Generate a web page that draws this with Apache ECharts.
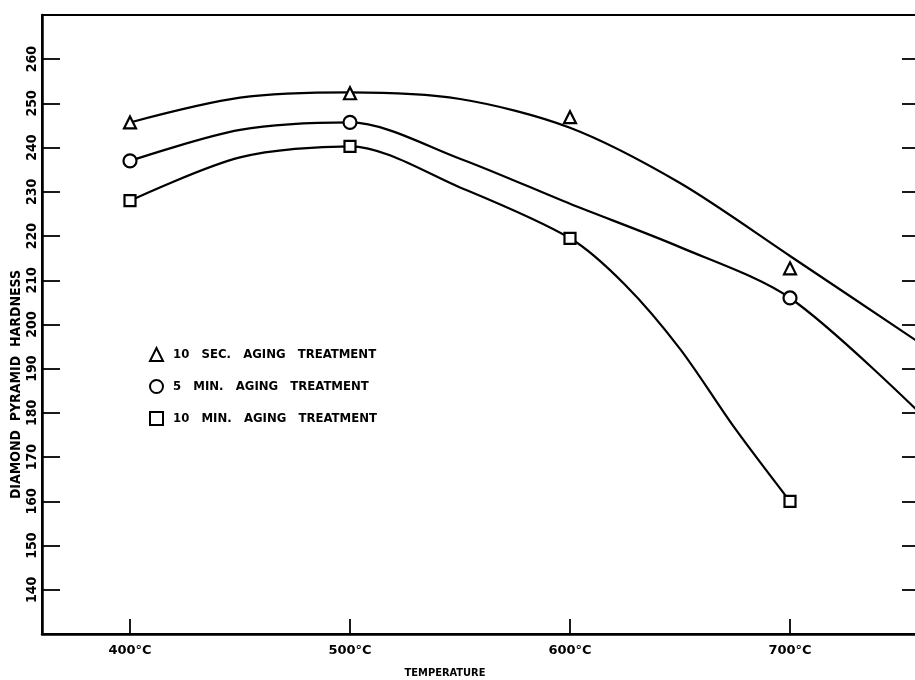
<!DOCTYPE html>
<html>
<head>
<meta charset="utf-8">
<script src="https://cdn.jsdelivr.net/npm/echarts@6/dist/echarts.min.js"></script>
<style>
  html, body { margin: 0; padding: 0; background: #fff; }
  #chart { width: 915px; height: 680px; }
</style>
</head>
<body>
<div id="chart"></div>
<script>
// tick labels
const xTicks = [400, 500, 600, 700];
const yTicks = [140, 150, 160, 170, 180, 190, 200, 210, 220, 230, 240, 250, 260];

// measured points [temperature, hardness]
const sec10Points = [[400, 245.7], [500, 252.3], [600, 246.9], [700, 212.7]];
const min5Points = [[400, 237], [500, 245.7], [700, 206]];
const min10Points = [[400, 228], [500, 240.3], [600, 219.5], [700, 160]];

// drawn (fitted) curves
const sec10Curve = [[400, 245.7], [450, 251.3], [500, 252.5], [550, 251], [600, 244.5], [650, 232], [700, 215.5], [760, 195.5]];
const min5Curve = [[400, 237], [450, 244], [500, 245.7], [550, 237.5], [600, 227.3], [650, 217.5], [700, 206], [760, 179.5]];
const min10Curve = [[400, 228], [450, 237.8], [500, 240.3], [550, 231], [600, 219.5], [625, 209], [650, 194.5], [675, 176.5], [700, 160]];

const seriesNames = ['10 SEC. AGING TREATMENT', '5 MIN. AGING TREATMENT', '10 MIN. AGING TREATMENT'];

const chartDom = document.getElementById('chart');
const myChart = echarts.init(chartDom);

const ink = '#000';
const font = "'Liberation Sans Narrow', 'DejaVu Sans Condensed', 'Liberation Sans', sans-serif";
const wideFont = "'DejaVu Sans', 'Liberation Sans', sans-serif";

function curve(data) {
    return {
        type: 'line',
        data: data,
        smooth: 0.3,
        showSymbol: false,
        silent: true,
        lineStyle: { color: ink, width: 2.2 },
        z: 2
    };
}

function marks(name, symbol, size, data) {
    return {
        name: name,
        type: 'scatter',
        data: data,
        symbol: symbol,
        symbolSize: size,
        itemStyle: { color: '#fff', borderColor: ink, borderWidth: 2.2, opacity: 1 },
        z: 5
    };
}

const option = {
    backgroundColor: '#fff',
    animation: false,
    grid: {
        left: 42,
        top: 15,
        right: -7,
        bottom: 46,
        outerBoundsMode: 'none',
        show: true,
        borderColor: ink,
        borderWidth: 2
    },
    legend: {
        orient: 'vertical',
        left: 149,
        top: 347,
        padding: 0,
        itemWidth: 13,
        itemHeight: 13,
        itemGap: 17,
        selectedMode: false,
        data: seriesNames,
        formatter: name => name.split(' ').join('   '),
        textStyle: {
            color: ink,
            fontFamily: font,
            fontWeight: 'bold',
            fontSize: 13,
            padding: [0, 0, 0, 5]
        }
    },
    xAxis: {
        type: 'value',
        min: 360,
        max: 760,
        name: 'TEMPERATURE',
        nameLocation: 'middle',
        nameGap: 34,
        nameMoveOverlap: false,
        nameTextStyle: {
            color: ink,
            fontFamily: font,
            fontWeight: 'bold',
            fontSize: 11,
            padding: [0, 74, 0, 0]
        },
        splitLine: { show: false },
        axisLine: { show: true, onZero: false, lineStyle: { color: ink, width: 2.5 } },
        axisTick: {
            show: true,
            inside: true,
            length: 15,
            customValues: xTicks,
            lineStyle: { color: ink, width: 1.8 }
        },
        axisLabel: {
            customValues: xTicks,
            color: ink,
            fontFamily: wideFont,
            fontWeight: 'bold',
            fontSize: 13,
            margin: 10,
            formatter: v => v + '°C'
        }
    },
    yAxis: [
        {
            type: 'value',
            min: 130,
            max: 270,
            name: 'DIAMOND  PYRAMID  HARDNESS',
            nameLocation: 'middle',
            nameRotate: 90,
            nameGap: 19,
            nameMoveOverlap: false,
            nameTextStyle: {
                color: ink,
                fontFamily: font,
                fontWeight: 'bold',
                fontSize: 14,
                padding: [0, 120, 0, 0]
            },
            splitLine: { show: false },
            axisLine: { show: true, onZero: false, lineStyle: { color: ink, width: 2.5 } },
            axisTick: {
                show: true,
                inside: true,
                length: 18,
                customValues: yTicks,
                lineStyle: { color: ink, width: 1.8 }
            },
            axisLabel: {
                customValues: yTicks,
                rotate: 90,
                color: ink,
                fontFamily: font,
                fontWeight: 'bold',
                fontSize: 14,
                margin: 3
            }
        },
        {
            type: 'value',
            position: 'right',
            min: 130,
            max: 270,
            splitLine: { show: false },
            axisLine: { show: true, onZero: false, lineStyle: { color: ink, width: 2 } },
            axisTick: {
                show: true,
                inside: true,
                length: 20,
                customValues: yTicks,
                lineStyle: { color: ink, width: 1.8 }
            },
            axisLabel: { show: false }
        }
    ],
    series: [
        curve(sec10Curve),
        curve(min5Curve),
        curve(min10Curve),
        marks(seriesNames[0], 'triangle', 12, sec10Points),
        marks(seriesNames[1], 'circle', 13, min5Points),
        marks(seriesNames[2], 'rect', 11, min10Points)
    ]
};

myChart.setOption(option);
window.addEventListener('resize', () => myChart.resize());
</script>
</body>
</html>
